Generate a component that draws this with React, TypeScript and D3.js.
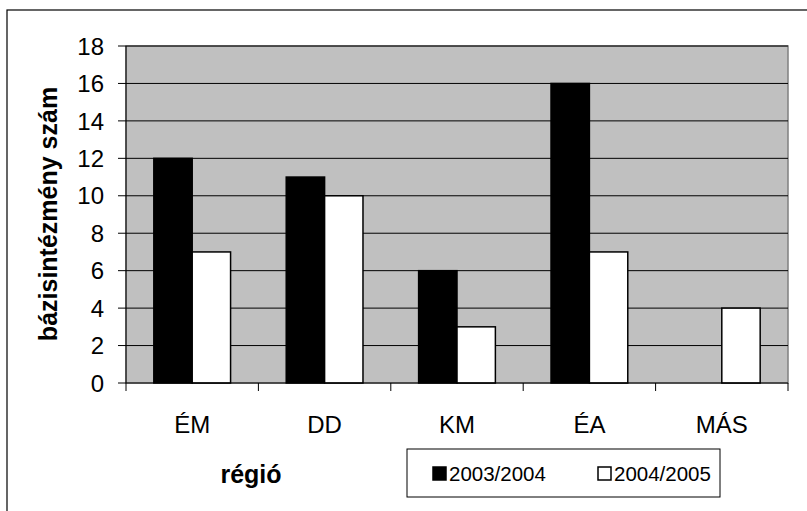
import React from "react";
import * as d3 from "d3";

const categories = ["ÉM", "DD", "KM", "ÉA", "MÁS"];
const series2003 = [12, 11, 6, 16, 0];
const series2004 = [7, 10, 3, 7, 4];
const seriesNames = ["2003/2004", "2004/2005"];
const yTicks = [0, 2, 4, 6, 8, 10, 12, 14, 16, 18];

const W = 807;
const H = 511;
const plot = { left: 126, top: 46, right: 788, bottom: 383 };
const font = "'Liberation Sans', Arial, sans-serif";

export default function App() {
  const x = d3.scaleBand<string>().domain(categories).range([plot.left, plot.right]).paddingInner(0).paddingOuter(0);
  const y = d3.scaleLinear().domain([0, 18]).range([plot.bottom, plot.top]);
  const bw = x.bandwidth();
  const barW = bw / 3.45;
  const gap = (bw - 2 * barW) / 2;
  const data = [series2003, series2004];
  const fills = ["#000000", "#ffffff"];

  return (
    <svg width={W} height={H} style={{ position: "absolute", left: 0, top: 0 }} fontFamily={font}>
      <rect x={0} y={0} width={W} height={H} fill="#fff" />
      <rect x={7} y={10} width={W + 10} height={H + 10} fill="none" stroke="#000" strokeWidth={1.2} />
      <rect x={plot.left} y={plot.top} width={plot.right - plot.left} height={plot.bottom - plot.top} fill="#c0c0c0" stroke="#808080" strokeWidth={1.5} />
      {yTicks.filter((t) => t > 0).map((t) => (
        <line key={"g" + t} x1={plot.left} x2={plot.right} y1={y(t)} y2={y(t)} stroke="#000" strokeWidth={1} />
      ))}
      {data.map((s, si) =>
        s.map((v, i) =>
          v > 0 ? (
            <rect
              key={si + "-" + i}
              x={(x(categories[i]) as number) + gap + si * barW}
              y={y(v)}
              width={barW}
              height={y(0) - y(v)}
              fill={fills[si]}
              stroke="#000"
              strokeWidth={1.5}
            />
          ) : null
        )
      )}
      <line x1={plot.left} x2={plot.left} y1={plot.top} y2={plot.bottom} stroke="#000" strokeWidth={1} />
      <line x1={plot.left} x2={plot.right} y1={plot.bottom} y2={plot.bottom} stroke="#000" strokeWidth={1} />
      {yTicks.map((t) => (
        <g key={"t" + t}>
          <line x1={plot.left - 8} x2={plot.left} y1={y(t)} y2={y(t)} stroke="#000" strokeWidth={1} />
          <text x={104} y={y(t)} dy="0.36em" textAnchor="end" fontSize={24}>
            {t}
          </text>
        </g>
      ))}
      {categories.map((c, i) => (
        <line key={"xt" + i} x1={x(c) as number} x2={x(c) as number} y1={plot.bottom} y2={plot.bottom + 8} stroke="#000" strokeWidth={1} />
      ))}
      <line x1={plot.right} x2={plot.right} y1={plot.bottom} y2={plot.bottom + 8} stroke="#000" strokeWidth={1} />
      {categories.map((c) => (
        <text key={"xl" + c} x={(x(c) as number) + bw / 2} y={433} textAnchor="middle" fontSize={24}>
          {c}
        </text>
      ))}
      <text transform="translate(57,214) rotate(-90)" textAnchor="middle" fontSize={25} fontWeight="bold">
        bázisintézmény szám
      </text>
      <text x={251} y={483} textAnchor="middle" fontSize={25} fontWeight="bold">
        régió
      </text>
      <rect x={407} y={449} width={313} height={48} fill="#fff" stroke="#000" strokeWidth={1} />
      {seriesNames.map((n, i) => (
        <g key={n} transform={`translate(${433 + i * 165},0)`}>
          <rect x={0} y={467} width={13} height={13} fill={fills[i]} stroke="#000" strokeWidth={1.5} />
          <text x={16} y={481} fontSize={20.5}>
            {n}
          </text>
        </g>
      ))}
    </svg>
  );
}
